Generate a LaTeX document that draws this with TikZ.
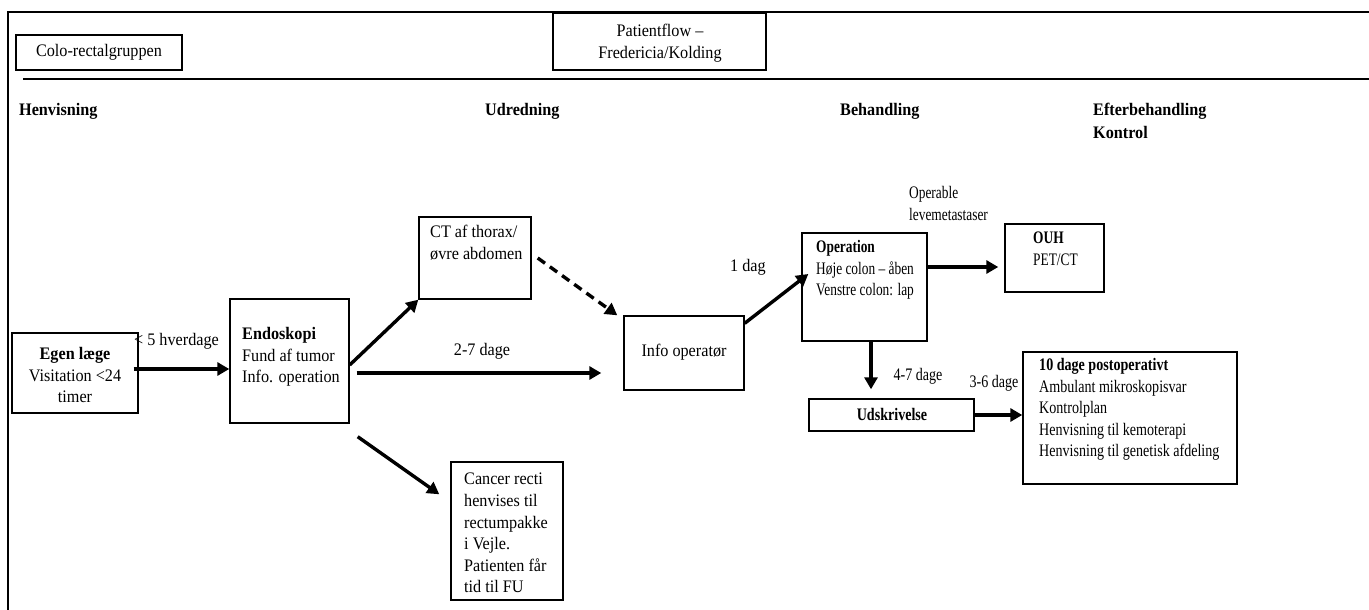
\documentclass[tikz,border=0pt]{standalone}
\usepackage{fontspec}
\setmainfont{Liberation Serif}[FakeStretch=0.92]
\newfontfamily\narrowserif{Liberation Serif}[FakeStretch=0.80]
\newfontfamily\narrowerserif{Liberation Serif}[FakeStretch=0.76]
\usetikzlibrary{arrows.meta,fit}
\begin{document}
\begin{tikzpicture}[x=1pt,y=-1pt,
  every node/.style={inner sep=0pt, font=\fontsize{17.6}{21.6}\selectfont},
  box/.style={draw, line width=1.4pt, inner sep=0pt},
  txt/.style={align=left, anchor=north west},
  ctxt/.style={align=center},
  head/.style={font=\fontsize{17.6}{22.5}\selectfont\bfseries, align=left, anchor=north west},
  narrow/.style={font=\fontsize{17.6}{21.6}\selectfont\narrowserif},
  narrower/.style={font=\fontsize{17.6}{21.6}\selectfont\narrowerserif},
  flow/.style={line width=3.4pt, -{Triangle[length=12pt,width=13pt]}},
  optional/.style={flow, dash pattern=on 9pt off 6pt},
]
\useasboundingbox (0,0) rectangle (1369,610);

% page frame and header rule
\draw[line width=2pt] (1369,12) -- (8,12) -- (8,610);
\draw[line width=1.5pt] (23,79) -- (1369,79);

% header boxes
\node[box, fit={(16,35) (182,70)}] (grp) {};
\node[ctxt] (grptxt) at (grp.center) {Colo-rectalgruppen};
\node[box, fit={(553,13) (766,70)}] (title) {};
\node[ctxt] (titletxt) at (660,43.5) {Patientflow –\\Fredericia/Kolding};

% phase headings
\node[head] (h1) at (19,103) {Henvisning};
\node[head] (h2) at (485,103) {Udredning};
\node[head] (h3) at (840,103) {Behandling};
\node[head] (h4) at (1093,103) {Efterbehandling\\Kontrol};

% process boxes
\node[box, fit={(12,333) (138,413)}] (egen) {};
\node[ctxt] (egentxt) at (75,375) {\textbf{Egen læge}\\Visitation <24\\timer};

\node[box, fit={(230,299) (349,423)}] (endo) {};
\node[txt] (endotxt) at (242,327) {\textbf{Endoskopi}\\Fund af tumor\\Info. operation};

\node[box, fit={(419,217) (531,299)}] (ct) {};
\node[txt] (cttxt) at (430,225) {CT af thorax/\\øvre abdomen};

\node[box, fit={(624,316) (744,390)}] (info) {};
\node[ctxt] (infotxt) at (684,352) {Info operatør};

\node[box, fit={(451,462) (563,600)}] (rect) {};
\node[txt] (recttxt) at (464,473) {Cancer recti\\henvises til\\rectumpakke\\i Vejle.\\Patienten får\\tid til FU};

\node[box, fit={(802,233) (927,341)}] (op) {};
\node[txt, narrower] (optxt) at (816,240) {\textbf{Operation}\\Høje colon – åben\\Venstre colon: lap};

\node[box, fit={(1005,224) (1104,292)}] (ouh) {};
\node[txt, narrower] (ouhtxt) at (1033,232) {\textbf{OUH}\\PET/CT};

\node[box, fit={(809,399) (974,431)}] (uds) {};
\node[ctxt, narrow] (udstxt) at (892,414) {\textbf{Udskrivelse}};

\node[box, fit={(1023,352) (1237,484)}] (post) {};
\node[txt, narrow] (posttxt) at (1039,358)
  {\textbf{10 dage postoperativt}\\Ambulant mikroskopisvar\\Kontrolplan\\Henvisning til kemoterapi\\Henvisning til genetisk afdeling};

% free labels
\node[ctxt] (lab5) at (176.5,341) {< 5 hverdage};
\node[ctxt] (lab27) at (482,351) {2-7 dage};
\node[ctxt] (lab1) at (748,267) {1 dag};
\node[txt, narrower] (labopr) at (909,186) {Operable\\levemetastaser};
\node[ctxt, narrow] (lab47) at (918,376) {4-7 dage};
\node[ctxt, narrow] (lab36) at (994,383) {3-6 dage};

% connectors
\draw[flow] ([shift={(-5pt,4pt)}]egen.east) -- ([yshift=-8pt]endo.west);
\draw[flow] ([yshift=-4pt]endo.east) -- (ct.south west);
\draw[optional] ([xshift=6pt]ct.east) -- ([xshift=-6pt]info.north west);
\draw[flow] ([shift={(7pt,-12pt)}]endo.east) -- ([shift={(-22pt,-20pt)}]info.west);
\draw[flow] ([shift={(8pt,-13pt)}]endo.south east) -- ([shift={(-11pt,-33pt)}]rect.north west);
\draw[flow] ([yshift=-8pt]info.north east) -- ([shift={(7pt,13pt)}]op.west);
\draw[flow] ([yshift=20pt]op.east) -- ([shift={(-6pt,-9pt)}]ouh.west);
\draw[flow] ([xshift=6.5pt]op.south) -- ([shift={(-20.5pt,9pt)}]uds.north);
\draw[flow] (uds.east) -- ([yshift=3pt]post.west);
\end{tikzpicture}
\end{document}
